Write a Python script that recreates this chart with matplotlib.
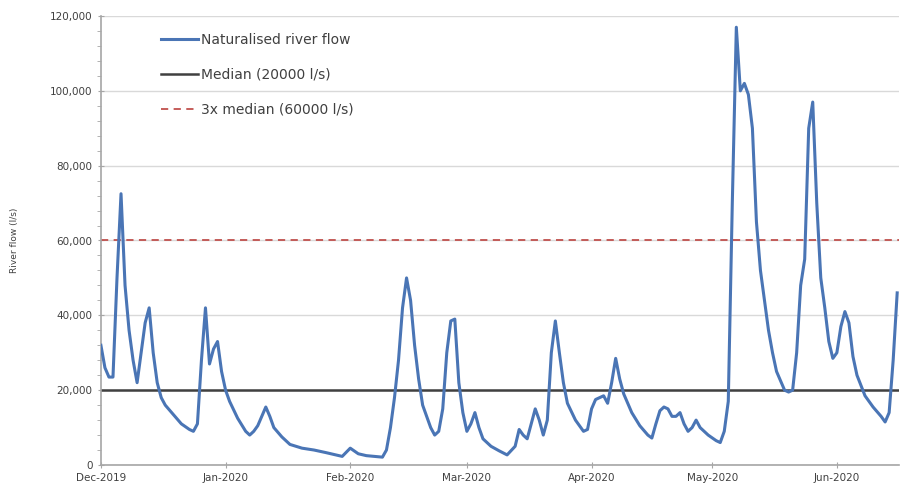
import numpy as np
import pandas as pd
import matplotlib
matplotlib.use("Agg")
import matplotlib.pyplot as plt
import matplotlib.dates as mdates
from matplotlib.ticker import MultipleLocator, FuncFormatter

# days after 1 Dec 2019 and naturalised flow (l/s)
day_offset = [0, 1, 2, 3, 4, 5, 6, 7, 8, 9, 10, 11, 12, 13, 14, 15, 16, 18, 20, 22,
              23, 24, 25, 26, 27, 28, 29, 30, 31, 32, 34, 36, 37, 38, 39, 41, 42, 43, 45, 47,
              50, 53, 56, 60, 62, 64, 66, 70, 71, 72, 73, 74, 75, 76, 77, 78, 79, 80, 82, 83,
              84, 85, 86, 87, 88, 89, 90, 91, 92, 93, 94, 95, 97, 99, 101, 103, 104, 105, 106, 107,
              108, 109, 110, 111, 112, 113, 114, 115, 116, 118, 120, 121, 122, 123, 124, 125, 126, 127, 128, 129,
              130, 132, 134, 136, 137, 138, 139, 140, 141, 142, 143, 144, 145, 146, 147, 148, 149, 151, 153, 154,
              155, 156, 157, 158, 159, 160, 161, 162, 163, 164, 165, 166, 167, 168, 170, 171, 172, 173, 174, 175,
              176, 177, 178, 179, 180, 181, 182, 183, 184, 185, 186, 187, 188, 190, 192, 194, 195, 196, 197, 198]
flow = [32000, 26000, 23500, 23500, 50000, 72500, 48000, 36000, 28000, 22000, 30000, 38000, 42000, 30000, 22000, 18000, 16000, 13500, 11000, 9500,
        9000, 11000, 28000, 42000, 27000, 31000, 33000, 25000, 20000, 17000, 12500, 9000, 8000, 9000, 10500, 15500, 13000, 10000, 7500, 5500,
        4500, 4000, 3300, 2300, 4500, 3000, 2500, 2100, 4000, 10000, 18000, 28000, 42000, 50000, 44000, 32000, 23000, 16000, 10000, 8000,
        9000, 15000, 30000, 38500, 39000, 22000, 14000, 9000, 11000, 14000, 10000, 7000, 5000, 3800, 2700, 5000, 9500, 8000, 7000, 11000,
        15000, 12000, 8000, 12000, 30000, 38500, 30000, 22000, 16500, 12000, 9000, 9500, 15000, 17500, 18000, 18500, 16500, 22000, 28500, 23000,
        19000, 14000, 10500, 8000, 7200, 11000, 14500, 15500, 15000, 13000, 13000, 14000, 11000, 9000, 10000, 12000, 10000, 8000, 6500, 6000,
        9000, 17000, 70000, 117000, 100000, 102000, 99000, 90000, 65000, 52000, 44000, 36000, 30000, 25000, 20000, 19500, 20000, 30000, 48000, 55000,
        90000, 97000, 70000, 50000, 42000, 33000, 28500, 30000, 37000, 41000, 38000, 29000, 24000, 18500, 15500, 13000, 11500, 14000, 28000, 46000]

median_flow = 20000
high_flow = 3 * median_flow

month_ticks = ["2019-12-01", "2020-01-01", "2020-02-01", "2020-03-01",
               "2020-04-01", "2020-05-01", "2020-06-01"]

dates = pd.Timestamp("2019-12-01") + pd.to_timedelta(day_offset, unit="D")

fig = plt.figure(figsize=(9.01, 5.0), dpi=100)
ax = fig.add_axes([0.112, 0.07, 0.886, 0.898])

ax.plot(dates, flow, color="#4a75b5", lw=2.2, label="Naturalised river flow", zorder=3)
ax.axhline(median_flow, color="#404040", lw=1.8, label="Median (20000 l/s)", zorder=2)
ax.axhline(high_flow, color="#c0504d", lw=1.3, ls=(0, (4, 3)), label="3x median (60000 l/s)", zorder=2)

ax.set_xlim(pd.Timestamp("2019-12-01"), pd.Timestamp("2019-12-01") + pd.Timedelta(days=198.5))
ax.set_ylim(0, 120000)

ax.set_xticks(pd.to_datetime(month_ticks))
ax.xaxis.set_major_formatter(mdates.DateFormatter("%b-%Y"))
ax.yaxis.set_major_locator(MultipleLocator(20000))
ax.yaxis.set_minor_locator(MultipleLocator(4000))
ax.yaxis.set_major_formatter(FuncFormatter(lambda v, p: f"{int(v):,}"))

ax.grid(axis="y", color="#d9d9d9", lw=1.0, zorder=0)
for s in ["top", "right"]:
    ax.spines[s].set_visible(False)
for s in ["left", "bottom"]:
    ax.spines[s].set_color("#a6a6a6")
    ax.spines[s].set_linewidth(1.2)

ax.tick_params(axis="both", which="major", labelsize=7.5, colors="#a6a6a6",
               labelcolor="#404040", length=5, direction="inout")
ax.tick_params(axis="y", which="minor", colors="#a6a6a6", length=3, direction="out")
ax.tick_params(axis="x", pad=3)
ax.set_ylabel("River flow (l/s)", fontsize=6.5, color="#404040", labelpad=22)

leg = ax.legend(loc="upper left", bbox_to_anchor=(0.059, 0.99), frameon=False,
                fontsize=10, labelspacing=1.5, handlelength=2.7, handletextpad=0.2)
for t in leg.get_texts():
    t.set_color("#404040")

fig.savefig("out.png", dpi=100)
